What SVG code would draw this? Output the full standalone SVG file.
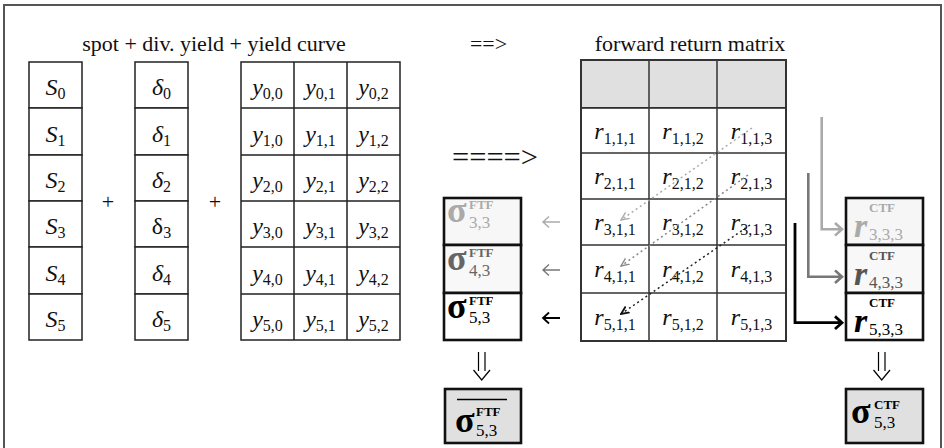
<svg xmlns="http://www.w3.org/2000/svg" width="944" height="448" viewBox="0 0 944 448">
<defs>
<style>
.t{font-family:"Liberation Serif","Times New Roman",serif;font-size:22px;fill:#111}
.m{font-size:24px}
.i{font-style:italic}
.sub{font-size:16px;font-style:normal}
.c{text-anchor:middle}
.cell{fill:#fff;stroke:#222;stroke-width:1.5}
.hdr{fill:#e0e0e0;stroke:#333;stroke-width:1.5}
.box{stroke:#111;stroke-width:2.6}
.sg{font-family:"Liberation Serif","Times New Roman",serif;font-weight:bold;font-size:36px}
.sp{font-family:"Liberation Serif","Times New Roman",serif;font-weight:bold;font-size:13px}
.sb{font-family:"Liberation Serif","Times New Roman",serif;font-size:17px}
.rr{font-family:"Liberation Serif","Times New Roman",serif;font-weight:bold;font-style:italic;font-size:34px}
.dot{fill:none;stroke-width:1.5;stroke-dasharray:2 3}
.ln{fill:none}
</style>
<marker id="ahL" viewBox="0 0 10 10" refX="9" refY="5" markerWidth="9" markerHeight="9" markerUnits="userSpaceOnUse" orient="auto"><path d="M0,1 L9,5 L0,9" fill="none" stroke="#aaa" stroke-width="1.5"/></marker>
<marker id="ahM" viewBox="0 0 10 10" refX="9" refY="5" markerWidth="9" markerHeight="9" markerUnits="userSpaceOnUse" orient="auto"><path d="M0,1 L9,5 L0,9" fill="none" stroke="#888" stroke-width="1.5"/></marker>
<marker id="ahD" viewBox="0 0 10 10" refX="9" refY="5" markerWidth="9" markerHeight="9" markerUnits="userSpaceOnUse" orient="auto"><path d="M0,1 L9,5 L0,9" fill="none" stroke="#111" stroke-width="2"/></marker>
</defs>
<rect x="0" y="0" width="944" height="448" fill="#fff"/>
<rect x="4" y="5" width="937" height="460" fill="#fff" stroke="#555" stroke-width="2"/>

<g id="labels">
<text class="t c" x="214" y="51">spot + div. yield + yield curve</text>
<text class="t" x="470" y="51" textLength="37" lengthAdjust="spacingAndGlyphs">==&gt;</text>
<text class="t c" x="690" y="51">forward return matrix</text>
<text class="t" x="452" y="167" style="font-size:30px" textLength="86" lengthAdjust="spacingAndGlyphs">====&gt;</text>
<text class="t c" x="108" y="209">+</text>
<text class="t c" x="215" y="209">+</text>
</g>

<g id="spot">
<rect class="cell" x="29" y="62" width="53" height="46"/>
<rect class="cell" x="29" y="108" width="53" height="47"/>
<rect class="cell" x="29" y="155" width="53" height="46"/>
<rect class="cell" x="29" y="201" width="53" height="46"/>
<rect class="cell" x="29" y="247" width="53" height="47"/>
<rect class="cell" x="29" y="294" width="53" height="46"/>
<text class="t m i c" x="55.5" y="95">S<tspan class="sub" dy="4">0</tspan></text>
<text class="t m i c" x="55.5" y="141.5">S<tspan class="sub" dy="4">1</tspan></text>
<text class="t m i c" x="55.5" y="188">S<tspan class="sub" dy="4">2</tspan></text>
<text class="t m i c" x="55.5" y="234">S<tspan class="sub" dy="4">3</tspan></text>
<text class="t m i c" x="55.5" y="280.5">S<tspan class="sub" dy="4">4</tspan></text>
<text class="t m i c" x="55.5" y="327">S<tspan class="sub" dy="4">5</tspan></text>
</g>

<g id="divyield">
<rect class="cell" x="135" y="62" width="53" height="46"/>
<rect class="cell" x="135" y="108" width="53" height="47"/>
<rect class="cell" x="135" y="155" width="53" height="46"/>
<rect class="cell" x="135" y="201" width="53" height="46"/>
<rect class="cell" x="135" y="247" width="53" height="47"/>
<rect class="cell" x="135" y="294" width="53" height="46"/>
<text class="t m i c" x="161.5" y="95">δ<tspan class="sub" dy="4">0</tspan></text>
<text class="t m i c" x="161.5" y="141.5">δ<tspan class="sub" dy="4">1</tspan></text>
<text class="t m i c" x="161.5" y="188">δ<tspan class="sub" dy="4">2</tspan></text>
<text class="t m c" x="161.5" y="234">δ<tspan class="sub" dy="4">3</tspan></text>
<text class="t m i c" x="161.5" y="280.5">δ<tspan class="sub" dy="4">4</tspan></text>
<text class="t m i c" x="161.5" y="327">δ<tspan class="sub" dy="4">5</tspan></text>
</g>

<g id="yieldcurve">
<rect class="cell" x="241" y="62" width="159" height="278"/>
<path class="ln" stroke="#222" stroke-width="1.5" d="M294,62V340M347,62V340M241,108H400M241,155H400M241,201H400M241,247H400M241,294H400"/>
<text class="t m i c" x="267.5" y="95">y<tspan class="sub" dy="4">0,0</tspan></text>
<text class="t m i c" x="320.5" y="95">y<tspan class="sub" dy="4">0,1</tspan></text>
<text class="t m i c" x="373.5" y="95">y<tspan class="sub" dy="4">0,2</tspan></text>
<text class="t m i c" x="267.5" y="141.5">y<tspan class="sub" dy="4">1,0</tspan></text>
<text class="t m i c" x="320.5" y="141.5">y<tspan class="sub" dy="4">1,1</tspan></text>
<text class="t m i c" x="373.5" y="141.5">y<tspan class="sub" dy="4">1,2</tspan></text>
<text class="t m i c" x="267.5" y="188">y<tspan class="sub" dy="4">2,0</tspan></text>
<text class="t m i c" x="320.5" y="188">y<tspan class="sub" dy="4">2,1</tspan></text>
<text class="t m i c" x="373.5" y="188">y<tspan class="sub" dy="4">2,2</tspan></text>
<text class="t m i c" x="267.5" y="234">y<tspan class="sub" dy="4">3,0</tspan></text>
<text class="t m i c" x="320.5" y="234">y<tspan class="sub" dy="4">3,1</tspan></text>
<text class="t m i c" x="373.5" y="234">y<tspan class="sub" dy="4">3,2</tspan></text>
<text class="t m i c" x="267.5" y="280.5">y<tspan class="sub" dy="4">4,0</tspan></text>
<text class="t m i c" x="320.5" y="280.5">y<tspan class="sub" dy="4">4,1</tspan></text>
<text class="t m i c" x="373.5" y="280.5">y<tspan class="sub" dy="4">4,2</tspan></text>
<text class="t m i c" x="267.5" y="327">y<tspan class="sub" dy="4">5,0</tspan></text>
<text class="t m i c" x="320.5" y="327">y<tspan class="sub" dy="4">5,1</tspan></text>
<text class="t m i c" x="373.5" y="327">y<tspan class="sub" dy="4">5,2</tspan></text>
</g>

<g id="matrix">
<rect class="hdr" x="581" y="60" width="205" height="48"/>
<rect class="cell" x="581" y="108" width="205" height="233"/>
<path class="ln" stroke="#333" stroke-width="1.5" d="M649,60V341M717,60V341M581,153H786M581,199H786M581,245H786M581,293H786"/>
<rect x="581" y="60" width="205" height="281" fill="none" stroke="#333" stroke-width="2"/>
<text class="t m i c" x="615" y="138.5">r<tspan class="sub" dy="5">1,1,1</tspan></text>
<text class="t m i c" x="683" y="138.5">r<tspan class="sub" dy="5">1,1,2</tspan></text>
<text class="t m i c" x="751.5" y="138.5">r<tspan class="sub" dy="5">1,1,3</tspan></text>
<text class="t m i c" x="615" y="184">r<tspan class="sub" dy="5">2,1,1</tspan></text>
<text class="t m i c" x="683" y="184">r<tspan class="sub" dy="5">2,1,2</tspan></text>
<text class="t m i c" x="751.5" y="184">r<tspan class="sub" dy="5">2,1,3</tspan></text>
<text class="t m i c" x="615" y="230">r<tspan class="sub" dy="5">3,1,1</tspan></text>
<text class="t m i c" x="683" y="230">r<tspan class="sub" dy="5">3,1,2</tspan></text>
<text class="t m i c" x="751.5" y="230">r<tspan class="sub" dy="5">3,1,3</tspan></text>
<text class="t m i c" x="615" y="277">r<tspan class="sub" dy="5">4,1,1</tspan></text>
<text class="t m i c" x="683" y="277">r<tspan class="sub" dy="5">4,1,2</tspan></text>
<text class="t m i c" x="751.5" y="277">r<tspan class="sub" dy="5">4,1,3</tspan></text>
<text class="t m i c" x="615" y="325">r<tspan class="sub" dy="5">5,1,1</tspan></text>
<text class="t m i c" x="683" y="325">r<tspan class="sub" dy="5">5,1,2</tspan></text>
<text class="t m i c" x="751.5" y="325">r<tspan class="sub" dy="5">5,1,3</tspan></text>
</g>

<g id="ftf33">
<rect class="box" x="444" y="198" width="77" height="47" fill="#f7f7f7"/>
<text class="sg" x="447" y="222" fill="#aaa">σ</text>
<text class="sp" x="469" y="209" fill="#aaa">FTF</text>
<text class="sb" x="469" y="228" fill="#aaa">3,3</text>
</g>
<g id="ftf43">
<rect class="box" x="444" y="245" width="77" height="48" fill="#f8f8f8"/>
<text class="sg" x="447" y="270" fill="#666">σ</text>
<text class="sp" x="469" y="257" fill="#666">FTF</text>
<text class="sb" x="469" y="276" fill="#666">4,3</text>
</g>
<g id="ftf53">
<rect class="box" x="444" y="293" width="77" height="47" fill="#fff"/>
<text class="sg" x="447" y="318" fill="#000">σ</text>
<text class="sp" x="469" y="305" fill="#000">FTF</text>
<text class="sb" x="469" y="323" fill="#000">5,3</text>
</g>
<g id="ftfbar">
<rect class="box" x="445" y="389" width="76" height="54" fill="#e0e0e0"/>
<line x1="457" y1="399.5" x2="507" y2="399.5" stroke="#000" stroke-width="1.3"/>
<text class="sg" x="455" y="432" fill="#000">σ</text>
<text class="sp" x="476" y="416" fill="#000">FTF</text>
<text class="sb" x="476" y="436" fill="#000">5,3</text>
</g>

<g id="ctf333">
<rect class="box" x="846" y="198" width="77" height="47" fill="#f6f6f6"/>
<text class="rr" x="854" y="237" fill="#aaa">r</text>
<text class="sp" x="869" y="212" fill="#aaa">CTF</text>
<text class="sb" x="869" y="240" fill="#aaa">3,3,3</text>
</g>
<g id="ctf433">
<rect class="box" x="846" y="245" width="77" height="48" fill="#f8f8f8"/>
<text class="rr" x="854" y="285" fill="#555">r</text>
<text class="sp" x="869" y="260" fill="#555">CTF</text>
<text class="sb" x="869" y="288" fill="#555">4,3,3</text>
</g>
<g id="ctf533">
<rect class="box" x="846" y="293" width="77" height="47" fill="#fff"/>
<text class="rr" x="854" y="332" fill="#000">r</text>
<text class="sp" x="869" y="307" fill="#000">CTF</text>
<text class="sb" x="869" y="335" fill="#000">5,3,3</text>
</g>
<g id="ctfsig">
<rect class="box" x="846" y="389" width="77" height="54" fill="#e0e0e0"/>
<text class="sg" x="851" y="423" fill="#000">σ</text>
<text class="sp" x="874" y="409" fill="#000">CTF</text>
<text class="sb" x="874" y="428" fill="#000">5,3</text>
</g>

<g id="connectors">
<path class="dot" stroke="#aaa" d="M752,128 L621,220" marker-end="url(#ahL)"/>
<path class="dot" stroke="#888" d="M748,175 L621,266" marker-end="url(#ahM)"/>
<path class="dot" stroke="#222" d="M750,225 L621,314" marker-end="url(#ahD)"/>
<path class="ln" stroke="#aaa" stroke-width="1.4" d="M560,222H543M549,216.5L543,222L549,227.5"/>
<path class="ln" stroke="#777" stroke-width="1.4" d="M560,270H543M549,264.5L543,270L549,275.5"/>
<path class="ln" stroke="#000" stroke-width="1.8" d="M560,318H543M549,312.5L543,318L549,323.5"/>
<path class="ln" stroke="#aaa" stroke-width="2.6" d="M821.7,117V229.3H842M835,223L842,229.3L835,235.6"/>
<path class="ln" stroke="#777" stroke-width="2.6" d="M808.3,173V276.7H842M835,270.4L842,276.7L835,283"/>
<path class="ln" stroke="#000" stroke-width="2.8" d="M795,223V322.7H842M835,316.4L842,322.7L835,329"/>
<path class="ln" stroke="#000" stroke-width="1.2" d="M478.5,352V371M485,352V371M473.5,370L481.7,380L490,370"/>
<path class="ln" stroke="#000" stroke-width="1.2" d="M878.5,352V371M885,352V371M873.5,370L881.7,380L890,370"/>
</g>
</svg>
